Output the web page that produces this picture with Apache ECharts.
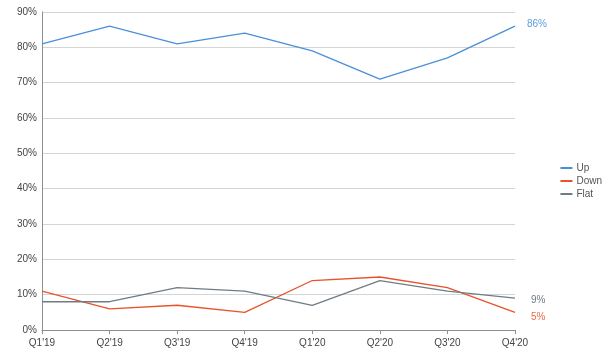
<!DOCTYPE html>
<html><head><meta charset="utf-8">
<script src="https://cdn.jsdelivr.net/npm/echarts@6/dist/echarts.min.js"></script>
<style>html,body{margin:0;padding:0;background:#fff}#c{width:611px;height:362px}</style>
</head><body><div id="c"></div>
<script>
const categories = ["Q1'19","Q2'19","Q3'19","Q4'19","Q1'20","Q2'20","Q3'20","Q4'20"];
const upValues = [81, 86, 81, 84, 79, 71, 77, 86];
const downValues = [11, 6, 7, 5, 14, 15, 12, 5];
const flatValues = [8, 8, 12, 11, 7, 14, 11, 9];
const seriesNames = ["Up", "Down", "Flat"];
const colors = ["#4a90d9", "#e8532b", "#6f7c86"];
const labelColors = ["#5a9de0", "#ee6a44", "#6f7c86"];
const labelOffsets = [[2, -2], [6, 5], [6, 2]];
const font = "Liberation Sans, Arial, Helvetica, sans-serif";

const chart = echarts.init(document.getElementById('c'), null, {renderer: 'canvas'});
function mk(name, data, i) {
  return {
    name: name, type: 'line', data: data, symbol: 'none',
    lineStyle: {width: 1.3, color: colors[i]}, itemStyle: {color: colors[i]},
    endLabel: {show: true, formatter: p => p.value + '%', color: labelColors[i],
      fontSize: 10, fontFamily: font, distance: 10, offset: labelOffsets[i]},
    animation: false
  };
}
chart.setOption({
  animation: false,
  grid: {left: 42, right: 96, top: 12, bottom: 32},
  legend: {
    orient: 'vertical', right: 4, top: 158, itemWidth: 12, itemHeight: 2, itemGap: 3,
    icon: 'rect',
    textStyle: {fontSize: 10, color: '#555', fontFamily: font, padding: [0,0,0,-1]},
    data: seriesNames
  },
  xAxis: {
    type: 'category', data: categories, boundaryGap: false,
    axisLine: {lineStyle: {color: '#8a8f94', width: 1}},
    axisTick: {show: true, length: 4, lineStyle: {color: '#8a8f94'}},
    axisLabel: {fontSize: 10, color: '#444', fontFamily: font, margin: 8, interval: 0}
  },
  yAxis: {
    type: 'value', min: 0, max: 90, interval: 10,
    axisLine: {show: true, lineStyle: {color: '#8a8f94', width: 1}},
    axisTick: {show: false},
    splitLine: {lineStyle: {color: '#d4d4d4', width: 1}},
    axisLabel: {formatter: '{value}%', fontSize: 10, color: '#444', fontFamily: font, margin: 5}
  },
  series: [mk(seriesNames[0], upValues, 0), mk(seriesNames[1], downValues, 1), mk(seriesNames[2], flatValues, 2)]
});
</script></body></html>
